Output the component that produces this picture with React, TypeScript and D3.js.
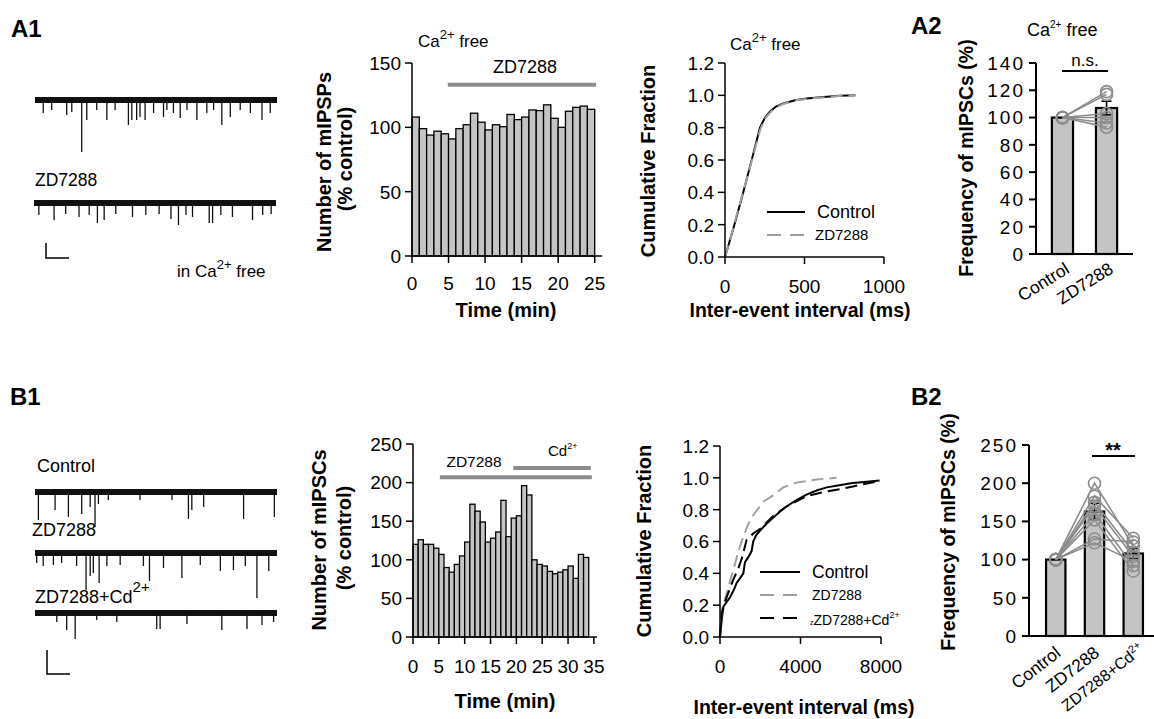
import React from "react";
import * as d3 from "d3";

const FONT = "'Liberation Sans', Arial, Helvetica, sans-serif";
const BAR_FILL = "#c4c4c4";
const GREY = "#8c8c8c";

// ---------- A1: histogram in Ca2+ free ----------
const a1Bins = [0, 1, 2, 3, 4, 5, 6, 7, 8, 9, 10, 11, 12, 13, 14, 15, 16, 17, 18, 19, 20, 21, 22, 23, 24];
const a1Counts = [108, 99, 94, 97, 95, 91, 99, 102, 111, 104, 98, 102, 100.5, 110, 106, 108, 113.5, 113, 117.5, 107, 100, 112.5, 115.5, 116.5, 114];
const a1XTicks = [0, 5, 10, 15, 20, 25];
const a1YTicks = [0, 50, 100, 150];
const a1ZdBar = [4.9, 25.2, 133];

// ---------- A1: cumulative fraction ----------
const a1CtrlCdf = [[0, 0], [30, 0.1], [59, 0.2], [115, 0.4], [168, 0.6], [220, 0.8], [250, 0.86], [283, 0.9], [320, 0.93], [368, 0.95], [440, 0.97], [515, 0.98], [620, 0.99], [720, 0.997], [820, 1.0]];
const a1ZdCdf = [[0, 0], [30, 0.1], [60, 0.21], [116, 0.41], [170, 0.6], [222, 0.79], [254, 0.86], [290, 0.9], [330, 0.93], [375, 0.95], [450, 0.97], [530, 0.98], [640, 0.99], [740, 0.997], [820, 1.0]];
const a1CdfXTicks = [0, 500, 1000];
const cdfYTicks = [0, 0.2, 0.4, 0.6, 0.8, 1.0, 1.2];

// ---------- A2: frequency summary ----------
const a2Groups = ["Control", "ZD7288"];
const a2Means = [100, 107];
const a2Sem = [0, 5];
const a2Ctrl = [100, 100, 100, 100, 100, 100];
const a2Zd = [119, 117, 103, 100, 96, 93];
const a2YTicks = [0, 20, 40, 60, 80, 100, 120, 140];

// ---------- B1: histogram ----------
const b1Bins = [0, 1, 2, 3, 4, 5, 6, 7, 8, 9, 10, 11, 12, 13, 14, 15, 16, 17, 18, 19, 20, 21, 22, 23, 24, 25, 26, 27, 28, 29, 30, 31, 32, 33];
const b1Counts = [120, 126, 120, 120, 115, 107, 90, 84, 94, 105, 123, 172, 163, 149, 123, 128, 136, 177, 130, 154, 157, 196, 184, 100, 94, 92, 85, 82, 84, 87, 92, 76, 107, 103];
const b1XTicks = [0, 5, 10, 15, 20, 25, 30, 35];
const b1YTicks = [0, 50, 100, 150, 200, 250];
const b1ZdBar = [5.2, 34.6, 207];
const b1CdBar = [19.4, 34.4, 219];

// ---------- B1: cumulative fraction ----------
const b1CtrlCdf = [[0, 0], [80, 0.1], [165, 0.19], [330, 0.22], [500, 0.25], [700, 0.3], [825, 0.34], [1000, 0.37], [1160, 0.4], [1240, 0.47], [1400, 0.5], [1570, 0.54], [1650, 0.6], [1800, 0.64], [2000, 0.67], [2300, 0.71], [2640, 0.75], [3000, 0.79], [3300, 0.82], [3800, 0.86], [4300, 0.895], [4800, 0.92], [5300, 0.94], [6000, 0.955], [6600, 0.967], [7300, 0.975], [7930, 0.983]];
const b1ZdCdf = [[0, 0], [83, 0.17], [330, 0.275], [660, 0.42], [990, 0.57], [1400, 0.71], [1650, 0.765], [2150, 0.85], [2640, 0.89], [3140, 0.94], [3800, 0.97], [4800, 0.99], [5790, 1.0]];
const b1CdCdf = [[0, 0], [83, 0.15], [330, 0.25], [660, 0.36], [908, 0.43], [1100, 0.5], [1320, 0.61], [1650, 0.65], [2000, 0.68], [2640, 0.76], [3300, 0.82], [4300, 0.885], [5300, 0.915], [6000, 0.93], [6600, 0.945], [7300, 0.965], [7930, 0.98]];
const b1CdfXTicks = [0, 4000, 8000];

// ---------- B2: frequency summary ----------
const b2Groups = ["Control", "ZD7288", "ZD7288+Cd"];
const b2Means = [100, 163, 108];
const b2Sem = [0, 10.5, 6.5];
const b2Ctrl = [100, 100, 100, 100, 100, 100, 100, 100];
const b2Zd = [200, 183, 175, 170, 160, 152, 127, 122];
const b2Cd = [118, 128, 110, 104, 92, 85, 123, 98];
const b2YTicks = [0, 50, 100, 150, 200, 250];

// ---------- raw traces: [time %, amplitude] of visible events ----------
const a1TraceCtrl = [[3.4, 13], [6.9, 10], [13.1, 15], [15.2, 12], [19.3, 52], [21.4, 20], [25.5, 10], [29.7, 20], [33.1, 10], [38.6, 25], [40, 20], [42, 20], [43.4, 17], [45.5, 20], [49, 13], [53.1, 17], [54.5, 10], [57.2, 13], [60, 18], [62.8, 10], [66.9, 20], [71, 13], [73.8, 10], [77.2, 25], [80.7, 17], [84.8, 10], [89, 13], [93.8, 20], [97.2, 13]];
const a1TraceZd = [[2, 12], [8.3, 17], [13.1, 11], [18.6, 14], [22.8, 12], [26.2, 20], [29, 17], [33.8, 11], [40.7, 14], [46.2, 12], [51.7, 11], [56.6, 16], [59.7, 22], [62.8, 12], [65.5, 14], [72.4, 20], [73.8, 20], [77.2, 12], [82, 14], [90.3, 17], [94.5, 12], [98, 11]];
const b1TraceCtrl = [[1.4, 28], [8.3, 18], [13.8, 25], [19.3, 22], [22.8, 15], [24.8, 35], [26.2, 12], [30.3, 8], [43.4, 8], [56.6, 8], [63.4, 27], [64.8, 18], [69.7, 15], [86.2, 27], [98.9, 25]];
const b1TraceZd = [[0.7, 10], [3.4, 13], [7.6, 12], [11, 10], [17.2, 13], [21.1, 37], [22.8, 23], [24.1, 20], [26.5, 30], [29.7, 13], [35.2, 12], [44.8, 13], [47.3, 28], [53.1, 15], [60.7, 25], [68.3, 12], [76.6, 18], [82, 17], [86.9, 13], [91.7, 45], [96.6, 18]];
const b1TraceCd = [[9, 9], [13.1, 17], [16.6, 26], [25.5, 7], [33.8, 9], [50.3, 16], [51.7, 16], [62.8, 11], [77.2, 17], [87.6, 16], [93.8, 12], [98.6, 9]];

function YAxis({ scale, x, ticks, fmt = (d) => String(d), size = 19, sw = 1.5, spacing = 0 }) {
  const [r0, r1] = scale.range();
  return (
    <g>
      <line x1={x} x2={x} y1={r0} y2={r1} stroke="#000" strokeWidth={sw} />
      {ticks.map((t) => (
        <g key={t}>
          <line x1={x - 7} x2={x} y1={scale(t)} y2={scale(t)} stroke="#000" strokeWidth={sw} />
          <text x={x - 11} y={scale(t)} dy="0.36em" textAnchor="end" fontSize={size} letterSpacing={spacing}>
            {fmt(t)}
          </text>
        </g>
      ))}
    </g>
  );
}

function XAxis({ scale, y, ticks, size = 19, sw = 1.5, labelDy = 35 }) {
  const [r0, r1] = scale.range();
  return (
    <g>
      <line x1={r0} x2={r1} y1={y} y2={y} stroke="#000" strokeWidth={sw} />
      {ticks.map((t) => (
        <g key={t}>
          <line x1={scale(t)} x2={scale(t)} y1={y} y2={y + 7} stroke="#000" strokeWidth={sw} />
          <text x={scale(t)} y={y + labelDy} textAnchor="middle" fontSize={size}>
            {t}
          </text>
        </g>
      ))}
    </g>
  );
}

function YTitle({ x, y, children, size = 20 }) {
  return (
    <text transform={`translate(${x},${y}) rotate(-90)`} textAnchor="middle" fontSize={size} fontWeight="bold">
      {children}
    </text>
  );
}

function Trace({ spikes, y, x0 = 35, x1 = 277 }) {
  const tx = d3.scaleLinear().domain([0, 100]).range([x0, x1]);
  const amp = d3.scaleLinear().domain([0, 60]).range([0, 60]);
  return (
    <g>
      <line x1={tx(0)} x2={tx(100)} y1={y} y2={y} stroke="#111" strokeWidth={6} />
      {spikes.map(([t, a], i) => (
        <line key={i} x1={tx(t)} x2={tx(t)} y1={y} y2={y + amp(a)} stroke="#111" strokeWidth={1.3} />
      ))}
    </g>
  );
}

function CaFree({ x, y, prefix = "", size = 17, supSize = 12, lift = 7 }) {
  return (
    <text x={x} y={y} fontSize={size}>
      {prefix}Ca
      <tspan dy={-lift} fontSize={supSize}>2+</tspan>
      <tspan dy={lift}> free</tspan>
    </text>
  );
}

function Histogram({ bins, counts, x, y }) {
  return (
    <g>
      {bins.map((b, i) => (
        <rect
          key={b}
          x={x(b)}
          y={y(counts[i])}
          width={x(b + 1) - x(b)}
          height={y(0) - y(counts[i])}
          fill={BAR_FILL}
          stroke="#000"
          strokeWidth={1.3}
        />
      ))}
    </g>
  );
}

function Summary({ groups, means, sem, cells, x, y, r = 6 }) {
  const cx = (g) => x(g) + x.bandwidth() / 2;
  return (
    <g>
      {groups.map((g, i) => (
        <rect key={g} x={x(g)} y={y(means[i])} width={x.bandwidth()} height={y(0) - y(means[i])} fill={BAR_FILL} stroke="#000" strokeWidth={2.2} />
      ))}
      {groups.map((g, i) =>
        sem[i] > 0 ? (
          <g key={g} stroke="#000" strokeWidth={1.6}>
            <line x1={cx(g)} x2={cx(g)} y1={y(means[i] - sem[i])} y2={y(means[i] + sem[i])} />
            <line x1={cx(g) - 5} x2={cx(g) + 5} y1={y(means[i] + sem[i])} y2={y(means[i] + sem[i])} />
            <line x1={cx(g) - 5} x2={cx(g) + 5} y1={y(means[i] - sem[i])} y2={y(means[i] - sem[i])} />
          </g>
        ) : null
      )}
      {cells[0].map((_, k) => (
        <polyline
          key={k}
          points={groups.map((g, i) => `${cx(g)},${y(cells[i][k])}`).join(" ")}
          fill="none"
          stroke={GREY}
          strokeWidth={1.6}
        />
      ))}
      {groups.map((g, i) =>
        cells[i].map((v, k) => (
          <circle key={g + k} cx={cx(g)} cy={y(v)} r={r} fill="none" stroke={GREY} strokeWidth={1.6} />
        ))
      )}
    </g>
  );
}

export default function App() {
  const line = (x, y) => d3.line().x((d) => x(d[0])).y((d) => y(d[1]));

  // A1 histogram scales
  const xA1 = d3.scaleLinear().domain([0, 26]).range([412, 602]);
  const yA1 = d3.scaleLinear().domain([0, 150]).range([256, 63]);
  // A1 cdf
  const xA1c = d3.scaleLinear().domain([0, 1000]).range([725, 884]);
  const yA1c = d3.scaleLinear().domain([0, 1.2]).range([257, 63]);
  // A2
  const yA2 = d3.scaleLinear().domain([0, 140]).range([254, 63]);
  const xA2 = d3.scaleBand().domain(a2Groups).range([1036, 1133]).paddingInner(0.52).paddingOuter(0.36);
  // B1 histogram
  const xB1 = d3.scaleLinear().domain([0, 35.6]).range([413, 597]);
  const yB1 = d3.scaleLinear().domain([0, 250]).range([637, 444]);
  // B1 cdf
  const xB1c = d3.scaleLinear().domain([0, 8000]).range([720, 881]);
  const yB1c = d3.scaleLinear().domain([0, 1.2]).range([637, 446]);
  // B2
  const yB2 = d3.scaleLinear().domain([0, 250]).range([636, 445]);
  const xB2 = d3.scaleBand().domain(b2Groups).range([1029, 1160]).paddingInner(0.5).paddingOuter(0.44);

  const f1 = (d) => d.toFixed(1);
  const a2c = (g) => xA2(g) + xA2.bandwidth() / 2;
  const b2c = (g) => xB2(g) + xB2.bandwidth() / 2;

  return (
    <svg width={1154} height={719} style={{ position: "absolute", left: 0, top: 0, background: "#fff" }} fontFamily={FONT}>
      <rect width={1154} height={719} fill="#fff" />

      {/* panel letters */}
      <g fontSize={24} fontWeight="bold">
        <text x={11} y={37}>A1</text>
        <text x={911} y={34}>A2</text>
        <text x={10} y={405}>B1</text>
        <text x={911} y={405}>B2</text>
      </g>

      {/* ---------- A1 traces ---------- */}
      <Trace spikes={a1TraceCtrl} y={100} />
      <text x={35} y={186} fontSize={17.5}>ZD7288</text>
      <Trace spikes={a1TraceZd} y={203} x0={34} x1={276} />
      <path d="M46,243V258H69" fill="none" stroke="#000" strokeWidth={1.5} />
      <CaFree x={177} y={277} prefix="in " size={17} supSize={13} lift={8} />

      {/* ---------- A1 histogram ---------- */}
      <Histogram bins={a1Bins} counts={a1Counts} x={xA1} y={yA1} />
      <YAxis scale={yA1} x={412} ticks={a1YTicks} />
      <XAxis scale={xA1} y={256} ticks={a1XTicks} labelDy={34} />
      <line x1={xA1(a1ZdBar[0])} x2={xA1(a1ZdBar[1])} y1={yA1(a1ZdBar[2])} y2={yA1(a1ZdBar[2])} stroke={GREY} strokeWidth={4} />
      <text x={525} y={73} textAnchor="middle" fontSize={18}>ZD7288</text>
      <CaFree x={418} y={47} size={17} supSize={13} lift={8} />
      <YTitle x={331} y={162}>Number of mIPSPs</YTitle>
      <YTitle x={352} y={159}>(% control)</YTitle>
      <text x={506} y={317} textAnchor="middle" fontSize={20} fontWeight="bold">Time (min)</text>

      {/* ---------- A1 cdf ---------- */}
      <path d={line(xA1c, yA1c)(a1CtrlCdf)} fill="none" stroke="#000" strokeWidth={2} />
      <path d={line(xA1c, yA1c)(a1ZdCdf)} fill="none" stroke="#a0a0a0" strokeWidth={2} strokeDasharray="12,6" />
      <YAxis scale={yA1c} x={725} ticks={cdfYTicks} fmt={f1} />
      <XAxis scale={xA1c} y={257} ticks={a1CdfXTicks} labelDy={36} />
      <CaFree x={730} y={50} size={17} supSize={13} lift={8} />
      <YTitle x={655} y={161}>Cumulative Fraction</YTitle>
      <text x={800} y={317} textAnchor="middle" fontSize={19.5} fontWeight="bold">Inter-event interval (ms)</text>
      <line x1={767} x2={805} y1={212} y2={212} stroke="#000" strokeWidth={2} />
      <text x={817} y={218} fontSize={18}>Control</text>
      <line x1={767} x2={805} y1={235} y2={235} stroke="#a0a0a0" strokeWidth={2} strokeDasharray="14,9" />
      <text x={815} y={240} fontSize={15}>ZD7288</text>

      {/* ---------- A2 ---------- */}
      <Summary groups={a2Groups} means={a2Means} sem={a2Sem} cells={[a2Ctrl, a2Zd]} x={xA2} y={yA2} />
      <YAxis scale={yA2} x={1036} ticks={a2YTicks} sw={2} spacing={2} />
      <line x1={1036} x2={1133} y1={254} y2={254} stroke="#000" strokeWidth={2} />
      <text x={1027} y={36} fontSize={18}>
        Ca<tspan dy={-8} fontSize={10}>2+</tspan><tspan dy={8}> free</tspan>
      </text>
      <line x1={1062} x2={1108} y1={71} y2={71} stroke="#000" strokeWidth={2} />
      <text x={1085} y={66} textAnchor="middle" fontSize={17}>n.s.</text>
      <YTitle x={973} y={158} size={19.5}>Frequency of mIPSCs (%)</YTitle>
      {a2Groups.map((g) => (
        <text key={g} transform={`translate(${a2c(g) + 8},${272}) rotate(-32)`} textAnchor="end" fontSize={17.5}>
          {g}
        </text>
      ))}

      {/* ---------- B1 traces ---------- */}
      <text x={37} y={472} fontSize={18}>Control</text>
      <Trace spikes={b1TraceCtrl} y={492} />
      <text x={32} y={536} fontSize={18}>ZD7288</text>
      <Trace spikes={b1TraceZd} y={553} />
      <text x={35} y={603} fontSize={18}>
        ZD7288+Cd<tspan dy={-11} fontSize={15}>2+</tspan>
      </text>
      <Trace spikes={b1TraceCd} y={613} />
      <path d="M47,650V674H70" fill="none" stroke="#000" strokeWidth={1.5} />

      {/* ---------- B1 histogram ---------- */}
      <Histogram bins={b1Bins} counts={b1Counts} x={xB1} y={yB1} />
      <YAxis scale={yB1} x={413} ticks={b1YTicks} />
      <XAxis scale={xB1} y={637} ticks={b1XTicks} labelDy={36} />
      <line x1={xB1(b1ZdBar[0])} x2={xB1(b1ZdBar[1])} y1={yB1(b1ZdBar[2])} y2={yB1(b1ZdBar[2])} stroke={GREY} strokeWidth={4} />
      <line x1={xB1(b1CdBar[0])} x2={xB1(b1CdBar[1])} y1={yB1(b1CdBar[2])} y2={yB1(b1CdBar[2])} stroke={GREY} strokeWidth={4} />
      <text x={474} y={467} textAnchor="middle" fontSize={15.5}>ZD7288</text>
      <text x={548} y={456} fontSize={15}>
        Cd<tspan dy={-7} fontSize={9}>2+</tspan>
      </text>
      <YTitle x={326} y={540}>Number of mIPSCs</YTitle>
      <YTitle x={351} y={538}>(% control)</YTitle>
      <text x={505} y={708} textAnchor="middle" fontSize={20} fontWeight="bold">Time (min)</text>

      {/* ---------- B1 cdf ---------- */}
      <path d={line(xB1c, yB1c)(b1CtrlCdf)} fill="none" stroke="#000" strokeWidth={2} />
      <path d={line(xB1c, yB1c)(b1ZdCdf)} fill="none" stroke="#a0a0a0" strokeWidth={2} strokeDasharray="12,6" />
      <path d={line(xB1c, yB1c)(b1CdCdf)} fill="none" stroke="#000" strokeWidth={2} strokeDasharray="12,6" />
      <YAxis scale={yB1c} x={720} ticks={cdfYTicks} fmt={f1} />
      <XAxis scale={xB1c} y={637} ticks={b1CdfXTicks} labelDy={36} />
      <YTitle x={651} y={541}>Cumulative Fraction</YTitle>
      <text x={804} y={714} textAnchor="middle" fontSize={19.5} fontWeight="bold">Inter-event interval (ms)</text>
      <line x1={760} x2={800} y1={572} y2={572} stroke="#000" strokeWidth={2} />
      <text x={812} y={578} fontSize={17.5}>Control</text>
      <line x1={760} x2={800} y1={595} y2={595} stroke="#a0a0a0" strokeWidth={2} strokeDasharray="14,9" />
      <text x={812} y={600} fontSize={14}>ZD7288</text>
      <line x1={760} x2={800} y1={618} y2={618} stroke="#000" strokeWidth={2} strokeDasharray="14,9" />
      <text x={810} y={625} fontSize={14}>
        <tspan fontSize={7}>z</tspan>ZD7288+Cd<tspan dy={-7} fontSize={9}>2+</tspan>
      </text>

      {/* ---------- B2 ---------- */}
      <Summary groups={b2Groups} means={b2Means} sem={b2Sem} cells={[b2Ctrl, b2Zd, b2Cd]} x={xB2} y={yB2} />
      <YAxis scale={yB2} x={1029} ticks={b2YTicks} sw={2} spacing={2} />
      <line x1={1029} x2={1154} y1={636} y2={636} stroke="#000" strokeWidth={2} />
      <line x1={1092} x2={1135} y1={456} y2={456} stroke="#000" strokeWidth={2} />
      <text x={1113} y={457} textAnchor="middle" fontSize={20} fontWeight="bold">**</text>
      <YTitle x={955} y={532} size={19.5}>Frequency of mIPSCs (%)</YTitle>
      {b2Groups.map((g, i) => (
        <text
          key={g}
          transform={`translate(${b2c(g) + (i === 2 ? 12 : 6)},${i === 2 ? 651 : 655}) rotate(-38)`}
          textAnchor="end"
          fontSize={i === 2 ? 16 : 17.5}
        >
          {g}
          {i === 2 ? <tspan dy={-6} fontSize={11}>2+</tspan> : null}
        </text>
      ))}
    </svg>
  );
}
